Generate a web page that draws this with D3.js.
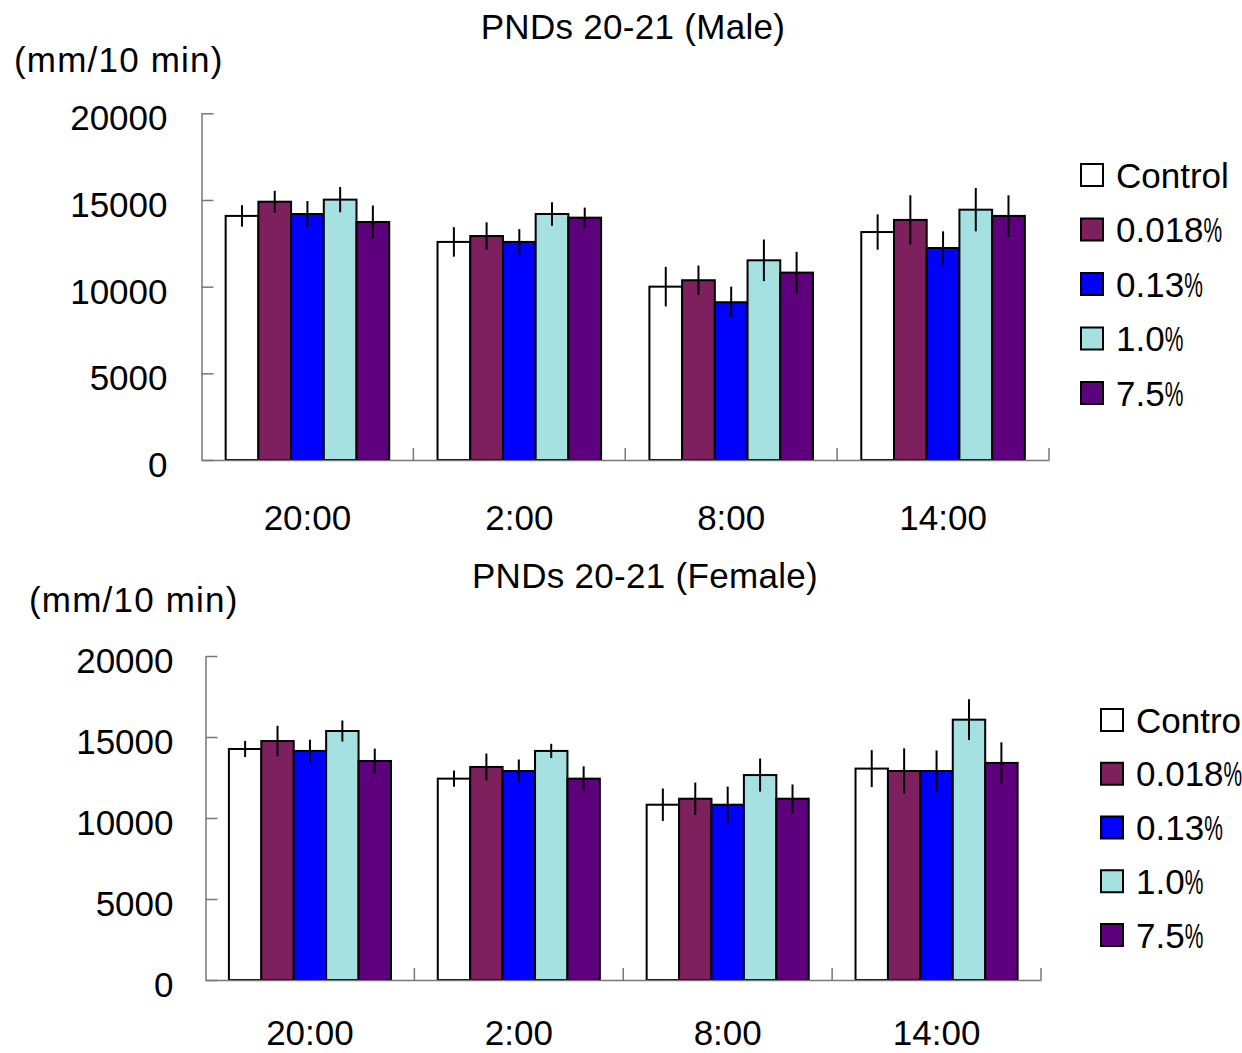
<!DOCTYPE html>
<html>
<head>
<meta charset="utf-8">
<script src="https://cdn.jsdelivr.net/npm/d3@7"></script>
<style>
  html, body { margin: 0; padding: 0; background: #fff; }
  svg { display: block; font-family: "Liberation Sans", Arial, sans-serif; }
</style>
</head>
<body>
<svg id="chart" width="1242" height="1053"></svg>
<script>
// Time points and treatment groups
const categories = ["20:00", "2:00", "8:00", "14:00"];
const groups = ["Control", "0.018%", "0.13%", "1.0%", "7.5%"];
const groupColors = ["#ffffff", "#7e1f5e", "#0000ff", "#a6e1e1", "#5e007e"];
const yTicks = [0, 5000, 10000, 15000, 20000];

// Locomotor activity (mm / 10 min), mean per group at each time point — males
const maleControl = [14080, 12580, 10000, 13150];
const male0018 = [14900, 12920, 10370, 13850];
const male013 = [14190, 12580, 9100, 12230];
const male10 = [15020, 14190, 11520, 14440];
const male75 = [13730, 13980, 10810, 14080];
// Standard errors — males
const maleControlErr = [620, 850, 1140, 1020];
const male0018Err = [630, 790, 850, 1420];
const male013Err = [750, 740, 900, 960];
const male10Err = [730, 680, 1200, 1250];
const male75Err = [950, 580, 1200, 1190];

// Means — females
const femaleControl = [14260, 12430, 10820, 13050];
const female0018 = [14750, 13150, 11190, 12900];
const female013 = [14140, 12900, 10820, 12900];
const female10 = [15370, 14140, 12650, 16070];
const female75 = [13520, 12430, 11190, 13400];
// Standard errors — females
const femaleControlErr = [500, 500, 1000, 1140];
const female0018Err = [940, 830, 1000, 1400];
const female013Err = [690, 710, 1120, 1270];
const female10Err = [650, 440, 1020, 1260];
const female75Err = [760, 760, 880, 1270];

const svg = d3.select("#chart");
const FONT = 35;

function buildRows(means, errs) {
  const rows = [];
  groups.forEach((g, gi) => {
    categories.forEach((c, ci) => {
      rows.push({ group: g, gi, cat: c, value: means[gi][ci], err: errs[gi][ci] });
    });
  });
  return rows;
}

function drawPanel(cfg) {
  const root = svg.append("g");
  const x = d3.scaleBand().domain(categories).range([cfg.left, cfg.right]).padding(0);
  const bw = x.bandwidth();
  const inner = d3.scaleBand().domain(groups)
    .range([bw * cfg.gap, bw * (1 - cfg.gap)]).padding(0);
  const y = d3.scaleLinear().domain([0, 20000]).range([cfg.bottom, cfg.top]);

  // Bars
  const rows = buildRows(cfg.means, cfg.errs);
  root.append("g").selectAll("rect").data(rows).join("rect")
    .attr("x", d => x(d.cat) + inner(d.group))
    .attr("y", d => y(d.value))
    .attr("width", inner.bandwidth())
    .attr("height", d => y(0) - y(d.value))
    .attr("fill", d => groupColors[d.gi])
    .attr("stroke", "#000")
    .attr("stroke-width", 2);

  // Error bars (vertical whiskers through the bar top)
  root.append("g").selectAll("line").data(rows).join("line")
    .attr("x1", d => x(d.cat) + inner(d.group) + inner.bandwidth() / 2)
    .attr("x2", d => x(d.cat) + inner(d.group) + inner.bandwidth() / 2)
    .attr("y1", d => y(d.value + d.err))
    .attr("y2", d => y(d.value - d.err))
    .attr("stroke", "#000")
    .attr("stroke-width", 2);

  // Y axis with inward ticks
  const yAxis = root.append("g")
    .attr("transform", `translate(${cfg.left},0)`)
    .call(d3.axisLeft(y).tickValues(yTicks).tickFormat(d3.format("d"))
      .tickSizeInner(-12).tickSizeOuter(0).tickPadding(cfg.labelPad));
  yAxis.select(".domain").attr("stroke", "#777").attr("stroke-width", 1.5);
  yAxis.selectAll(".tick line").attr("stroke", "#777").attr("stroke-width", 1.5);
  yAxis.selectAll(".tick text")
    .attr("dy", "0.47em")
    .attr("fill", "#000")
    .style("font-size", FONT + "px")
    .style("font-family", "'Liberation Sans', Arial, sans-serif");

  // X axis: baseline, boundary ticks between groups, centred labels
  const xAxis = root.append("g")
    .attr("transform", `translate(0,${cfg.bottom})`)
    .call(d3.axisBottom(x).tickSize(0).tickPadding(cfg.xLabelPad));
  xAxis.select(".domain").attr("stroke", "#777").attr("stroke-width", 1.5);
  xAxis.selectAll(".tick text")
    .attr("fill", "#000")
    .attr("dy", "0")
    .style("font-size", FONT + "px")
    .style("font-family", "'Liberation Sans', Arial, sans-serif");
  const bounds = categories.map(c => x(c) + bw);
  root.append("g").selectAll("line").data(bounds).join("line")
    .attr("x1", d => d).attr("x2", d => d)
    .attr("y1", cfg.bottom).attr("y2", cfg.bottom - 12)
    .attr("stroke", "#777").attr("stroke-width", 1.5);

  // Title and unit label
  root.append("text")
    .attr("x", cfg.titleX).attr("y", cfg.titleY)
    .attr("text-anchor", "middle")
    .style("font-size", FONT + "px")
    .style("letter-spacing", "0.3px")
    .text(cfg.title);
  root.append("text")
    .attr("x", cfg.unitX).attr("y", cfg.unitY)
    .style("font-size", FONT + "px")
    .style("letter-spacing", "1.2px")
    .text("(mm/10 min)");

  // Legend: swatch plus label; a trailing percent sign is set in a condensed glyph
  const leg = root.append("g").selectAll("g").data(groups).join("g")
    .attr("transform", (d, i) => `translate(${cfg.legX},${cfg.legY + i * cfg.legStep})`);
  leg.append("rect")
    .attr("x", 0).attr("y", -11).attr("width", 22).attr("height", 22)
    .attr("fill", (d, i) => groupColors[i])
    .attr("stroke", "#000").attr("stroke-width", 2);
  leg.each(function (d) {
    const g = d3.select(this);
    const hasPct = d.endsWith("%");
    const main = hasPct ? d.slice(0, -1) : d;
    const t = g.append("text")
      .attr("x", 35).attr("y", 12.5)
      .style("font-size", FONT + "px")
      .text(main);
    if (hasPct) {
      const w = t.node().getComputedTextLength();
      g.append("text")
        .attr("transform", `translate(${35 + w},12.5) scale(0.6,1)`)
        .style("font-size", FONT + "px")
        .text("%");
    }
  });
}

drawPanel({
  title: "PNDs 20-21 (Male)",
  means: [maleControl, male0018, male013, male10, male75],
  errs: [maleControlErr, male0018Err, male013Err, male10Err, male75Err],
  left: 201.5, right: 1049, top: 113.3, bottom: 460,
  gap: 0.114, labelPad: 34, xLabelPad: 70,
  titleX: 633, titleY: 39, unitX: 14, unitY: 72,
  legX: 1081, legY: 175, legStep: 54.5
});

drawPanel({
  title: "PNDs 20-21 (Female)",
  means: [femaleControl, female0018, female013, female10, female75],
  errs: [femaleControlErr, female0018Err, female013Err, female10Err, female75Err],
  left: 205.5, right: 1041, top: 656, bottom: 980,
  gap: 0.112, labelPad: 32, xLabelPad: 65,
  titleX: 645, titleY: 588, unitX: 29, unitY: 612,
  legX: 1101, legY: 720, legStep: 53.75
});
</script>
</body>
</html>
